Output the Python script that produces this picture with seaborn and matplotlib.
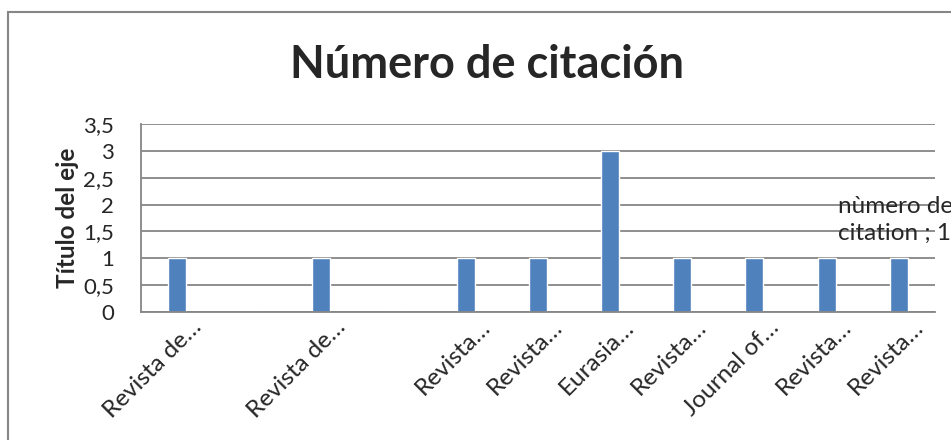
import pandas as pd
import matplotlib
matplotlib.use('Agg')
import matplotlib.pyplot as plt
import matplotlib.transforms as mtransforms
import seaborn as sns
from matplotlib.patches import Rectangle

# Data (two empty category slots have no bar)
labels = ['Revista de…', '', 'Revista de…', '', 'Revista…', 'Revista…',
          'Eurasia…', 'Revista…', 'Journal of…', 'Revista…', 'Revista…']
citas = [1, 0, 1, 0, 1, 1, 3, 1, 1, 1, 1]
y_ticks = [0, 0.5, 1, 1.5, 2, 2.5, 3, 3.5]

data = pd.DataFrame({'slot': range(len(labels)), 'citas': citas})

sns.set_style('white')
plt.rcParams['font.family'] = ['Lato', 'DejaVu Sans']

fig = plt.figure(figsize=(9.51, 4.40), dpi=100)
ax = fig.add_axes([0.148, 0.291, 0.835, 0.427])

sns.barplot(x='slot', y='citas', data=data, color='#4F81BD', saturation=1,
            width=0.25, ax=ax)

ax.set_ylim(0, 3.5)
ax.set_yticks(y_ticks)
ax.set_yticklabels([f'{t:g}'.replace('.', ',') for t in y_ticks], fontsize=16)
ax.yaxis.grid(True, color='#868686', linewidth=1.3)
ax.set_axisbelow(True)
ax.set_xlim(-0.5, len(labels) - 0.5)
ax.set_xticks(range(len(labels)))
ax.set_xticklabels([])
ax.tick_params(axis='x', length=0)
ax.tick_params(axis='y', length=0, pad=19)
ax.set_xlabel('')
ax.set_ylabel('Título del eje', fontsize=17.5, fontweight='bold', labelpad=3)

# rotated category labels, end of text placed just right of each tick
lab_tr = (mtransforms.blended_transform_factory(ax.transData, ax.transAxes)
          + mtransforms.ScaledTranslation(21 / 100, -12 / 100, fig.dpi_scale_trans))
for i, lab in enumerate(labels):
    ax.text(i, 0, lab, transform=lab_tr, rotation=45, ha='right', va='center',
            rotation_mode='anchor', fontsize=17.5)

for side in ['top', 'right']:
    ax.spines[side].set_visible(False)
for side in ['left', 'bottom']:
    ax.spines[side].set_color('#868686')
    ax.spines[side].set_linewidth(1.3)

fig.text(0.512, 0.852, 'Número de citación', fontsize=32.5, fontweight='bold',
         ha='center', va='center')

# data label that spills off the chart on the right (cut off as in the original)
fig.text(0.881, 0.5, 'nùmero de\ncitation ; 1', fontsize=17.5, ha='left',
         va='center', linespacing=1.3)

# chart area frame
fig.patches.append(Rectangle((8 / 951, -0.1), 1.2, 1 - 12 / 440 + 0.1,
                             transform=fig.transFigure, fill=False,
                             edgecolor='#868686', linewidth=1.5))

fig.savefig('out.png', dpi=100)
